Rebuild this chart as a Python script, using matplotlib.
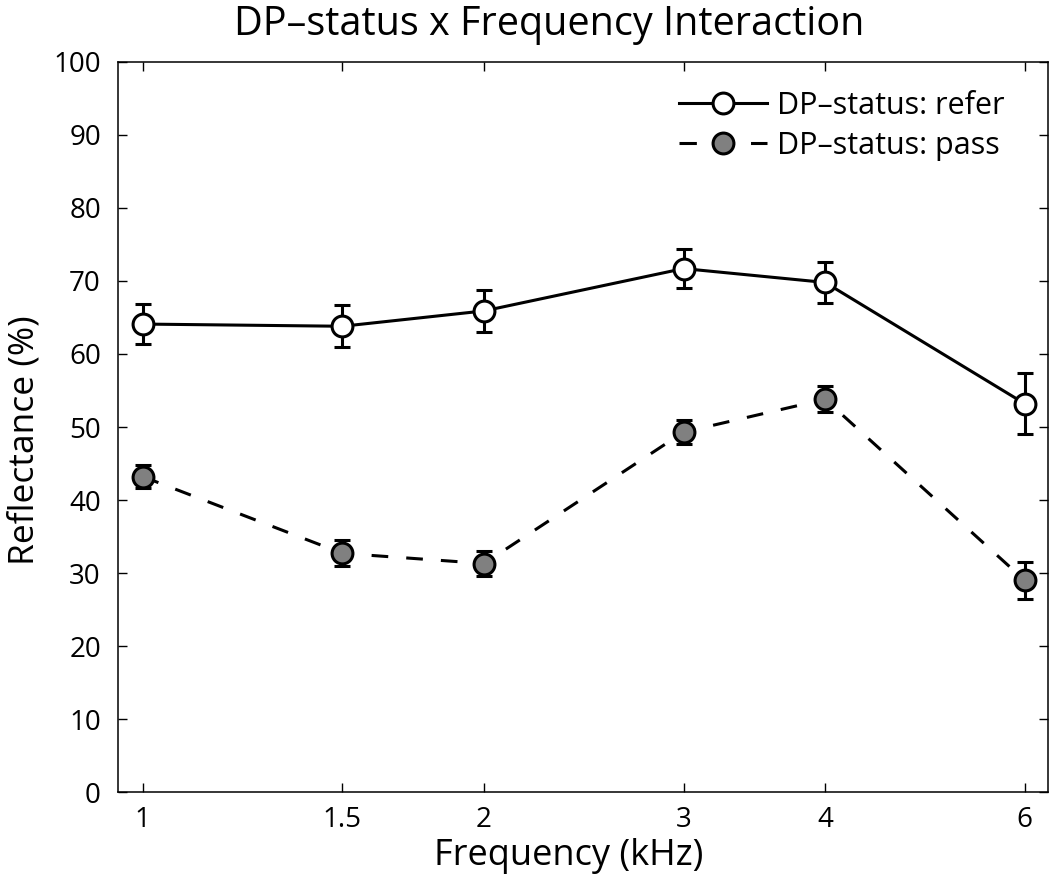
import matplotlib
matplotlib.use('Agg')
import matplotlib.pyplot as plt
from matplotlib.lines import Line2D

plt.rcParams['font.family'] = ['Open Sans', 'DejaVu Sans']
plt.rcParams['lines.scale_dashes'] = False

# data
freq = [1, 1.5, 2, 3, 4, 6]
freq_labels = ['1', '1.5', '2', '3', '4', '6']
refer = [64.1, 63.8, 65.9, 71.7, 69.8, 53.2]
refer_err = [2.7, 2.9, 2.9, 2.7, 2.85, 4.15]
pass_ = [43.2, 32.7, 31.3, 49.3, 53.8, 29.0]
pass_err = [1.6, 1.8, 1.7, 1.6, 1.8, 2.5]

fig = plt.figure(figsize=(10.5, 8.85), dpi=100)
ax = fig.add_axes([0.112, 0.105, 0.886, 0.825])

lw = 2.2
ax.errorbar(freq, refer, yerr=refer_err, color='k', lw=lw, ls='-',
            marker='o', ms=15, mfc='white', mec='k', mew=lw,
            capsize=5.5, capthick=lw, elinewidth=lw, zorder=3)
ax.errorbar(freq, pass_, yerr=pass_err, color='k', lw=lw, dashes=(12, 13),
            marker='o', ms=15, mfc='#808080', mec='k', mew=lw,
            capsize=5.5, capthick=lw, elinewidth=lw, zorder=3)

ax.set_xscale('log')
ax.set_xlim(0.95, 6.29)
ax.set_ylim(0, 100)
ax.set_xticks(freq)
ax.set_xticklabels(freq_labels)
ax.minorticks_off()
ax.set_yticks(range(0, 101, 10))

ax.tick_params(direction='in', length=6.5, width=1.0, top=True, right=True,
               labelsize=20)
ax.tick_params(axis='x', pad=10)
ax.tick_params(axis='y', pad=12)
for s in ax.spines.values():
    s.set_linewidth(1.1)

ax.set_xlabel('Frequency (kHz)', fontsize=26)
ax.xaxis.set_label_coords(0.485, -0.1)
ax.xaxis.label.set_va('baseline')
ax.set_ylabel('Reflectance (%)', fontsize=25.5)
ax.yaxis.set_label_coords(-0.082, 0.482)

fig.text(0.523, 1 - 35 / 885, 'DP–status x Frequency Interaction',
         fontsize=28.5, ha='center', va='baseline')

# legend handles without the error bars
h_refer = Line2D([], [], color='k', lw=lw, ls='-', marker='o', ms=15,
                 mfc='white', mec='k', mew=lw)
h_pass = Line2D([], [], color='k', lw=lw, dashes=(12.5, 39), marker='o',
                ms=15, mfc='#808080', mec='k', mew=lw)
ax.legend([h_refer, h_pass], ['DP–status: refer', 'DP–status: pass'],
          loc='upper right', bbox_to_anchor=(0.967, 0.977), borderaxespad=0,
          frameon=False, fontsize=22, handlelength=2.88, handletextpad=0.33,
          labelspacing=0.33, borderpad=0.4)

fig.savefig('out.png', dpi=100)
